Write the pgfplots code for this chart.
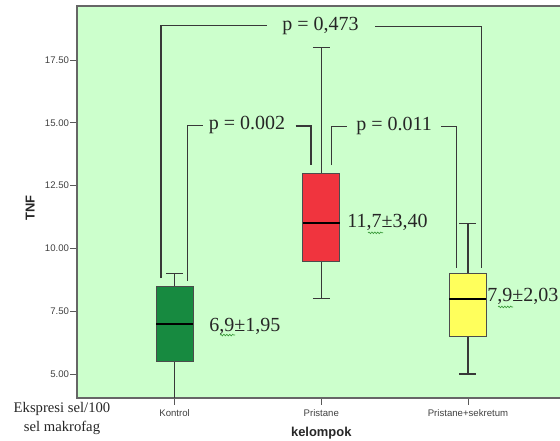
\documentclass[border=0pt]{standalone}
\usepackage{fontspec}
\setmainfont{Liberation Sans}
\newfontfamily\serif{Liberation Serif}
\usepackage{pgfplots}
\pgfplotsset{compat=1.18}
\usetikzlibrary{decorations.pathmorphing}
\definecolor{bg}{HTML}{CCFFCC}
\definecolor{kgreen}{HTML}{178A40}
\definecolor{kred}{HTML}{F0343E}
\definecolor{kyellow}{HTML}{FFFF5C}
\definecolor{lin}{HTML}{383838}
\definecolor{squig}{HTML}{3A9A3A}
\begin{document}
\begin{tikzpicture}
\begin{axis}[
  scale only axis,
  width=366.4pt, height=294pt,
  xmin=-0.665, xmax=2.665,
  ymin=4.045, ymax=19.65,
  axis background/.style={fill=bg},
  axis line style={draw=black!60, line width=0.9pt},
  xtick={0,1,2},
  xticklabels={Kontrol,Pristane,Pristane+sekretum},
  ytick={5,7.5,10,12.5,15,17.5},
  /pgf/number format/assume math mode=true,
  tick label style={font=\fontsize{7.2}{8}\selectfont, text=black!75},
  yticklabel style={xshift=2.5pt, /pgf/number format/fixed, /pgf/number format/fixed zerofill, /pgf/number format/precision=2},
  tick align=outside,
  xtick pos=bottom, ytick pos=left,
  major tick length=5pt,
  tick style={draw=black!65, line width=0.7pt},
  xlabel={\bfseries kelompok},
  ylabel={\bfseries TNF},
  label style={font=\fontsize{9.7}{11}\selectfont, text=black!85},
  xlabel style={at={(axis description cs:0.5,0)}, anchor=center, yshift=-26pt},
  ylabel style={at={(axis description cs:-0.096,0.485)}, anchor=center},
  clip=true,
]
\coordinate (LL) at (rel axis cs:0,0);
% Kontrol: lower whisker 3.5 (below axis), Q1 5.5, median 7, Q3 8.5, upper whisker 9
\addplot[lin, line width=0.9pt, no marks] coordinates {(0,8.5) (0,9)};
\addplot[lin, line width=0.9pt, no marks] coordinates {(-0.058,9) (0.058,9)};
\addplot[lin, line width=0.9pt, no marks] coordinates {(0,5.5) (0,3.5)};
\addplot[fill=kgreen, draw=black!70, line width=0.6pt] coordinates {(-0.126,5.5) (0.126,5.5) (0.126,8.5) (-0.126,8.5)} -- cycle;
\addplot[black, line width=1.6pt, no marks] coordinates {(-0.126,7) (0.126,7)};
% Pristane: 8, 9.5, 11, 13, 18
\addplot[lin, line width=0.9pt, no marks] coordinates {(1,13) (1,18)};
\addplot[lin, line width=0.9pt, no marks] coordinates {(0.942,18) (1.058,18)};
\addplot[lin, line width=0.9pt, no marks] coordinates {(1,9.5) (1,8)};
\addplot[lin, line width=0.9pt, no marks] coordinates {(0.942,8) (1.058,8)};
\addplot[fill=kred, draw=black!70, line width=0.6pt] coordinates {(0.874,9.5) (1.126,9.5) (1.126,13) (0.874,13)} -- cycle;
\addplot[black, line width=1.6pt, no marks] coordinates {(0.874,11) (1.126,11)};
% Pristane+sekretum: 5, 6.5, 8, 9, 11
\addplot[lin, line width=0.9pt, no marks] coordinates {(2,9) (2,11)};
\addplot[lin, line width=0.9pt, no marks] coordinates {(1.942,11) (2.058,11)};
\addplot[lin, line width=0.9pt, no marks] coordinates {(2,6.5) (2,5)};
\addplot[lin, line width=0.9pt, no marks] coordinates {(1.942,5) (2.058,5)};
\addplot[fill=kyellow, draw=black!70, line width=0.6pt] coordinates {(1.874,6.5) (2.126,6.5) (2.126,9) (1.874,9)} -- cycle;
\addplot[black, line width=1.6pt, no marks] coordinates {(1.874,8) (2.126,8)};
% brackets
\addplot[lin, line width=1pt, no marks] coordinates {(-0.092,8.82) (-0.092,18.88) (0.631,18.88)};
\addplot[lin, line width=1pt, no marks] coordinates {(1.367,18.84) (2.093,18.84) (2.093,9.23)};
\addplot[lin, line width=1pt, no marks] coordinates {(0.09,8.71) (0.09,14.89) (0.191,14.89)};
\addplot[lin, line width=1pt, no marks] coordinates {(0.826,14.87) (0.930,14.87) (0.930,13.32)};
\addplot[lin, line width=1pt, no marks] coordinates {(1.072,13.32) (1.072,14.86) (1.174,14.86)};
\addplot[lin, line width=1pt, no marks] coordinates {(1.817,14.84) (1.924,14.84) (1.924,9.23)};
\node[font=\serif\fontsize{15}{17}\selectfont, text=black!85] at (axis cs:0.995,18.85) {p = 0,473};
\node[font=\serif\fontsize{15}{17}\selectfont, text=black!85] at (axis cs:0.494,14.9) {p = 0.002};
\node[font=\serif\fontsize{15}{17}\selectfont, text=black!85] at (axis cs:1.496,14.86) {p = 0.011};
\node[font=\serif\fontsize{15}{17}\selectfont, text=black!85, anchor=west, inner sep=0pt] at (axis cs:0.235,6.91) {6,9±1,95};
\node[font=\serif\fontsize{15}{17}\selectfont, text=black!85, anchor=west, inner sep=0pt] at (axis cs:1.176,11.05) {11,7±3,40};
\node[font=\serif\fontsize{15}{17}\selectfont, text=black!85, anchor=west, inner sep=0pt] at (axis cs:2.13,8.07) {7,9±2,03};
\draw[squig, line width=0.5pt, decorate, decoration={snake, amplitude=0.6pt, segment length=2.2pt}] (axis cs:0.310,6.55) -- (axis cs:0.412,6.55);
\draw[squig, line width=0.5pt, decorate, decoration={snake, amplitude=0.6pt, segment length=2.2pt}] (axis cs:1.319,10.62) -- (axis cs:1.421,10.62);
\draw[squig, line width=0.5pt, decorate, decoration={snake, amplitude=0.6pt, segment length=2.2pt}] (axis cs:2.205,7.67) -- (axis cs:2.307,7.67);
\end{axis}
\node[font=\serif\fontsize{11}{14.3}\selectfont, text=black!85, align=center] at ([shift={(-11.25pt,-15.4pt)}]LL) {Ekspresi sel/100\\sel makrofag};
\pgfresetboundingbox
\path[use as bounding box] ([shift={(-57.75pt,-32.25pt)}]LL) rectangle ([shift={(362.25pt,298.5pt)}]LL);
\end{tikzpicture}
\end{document}
